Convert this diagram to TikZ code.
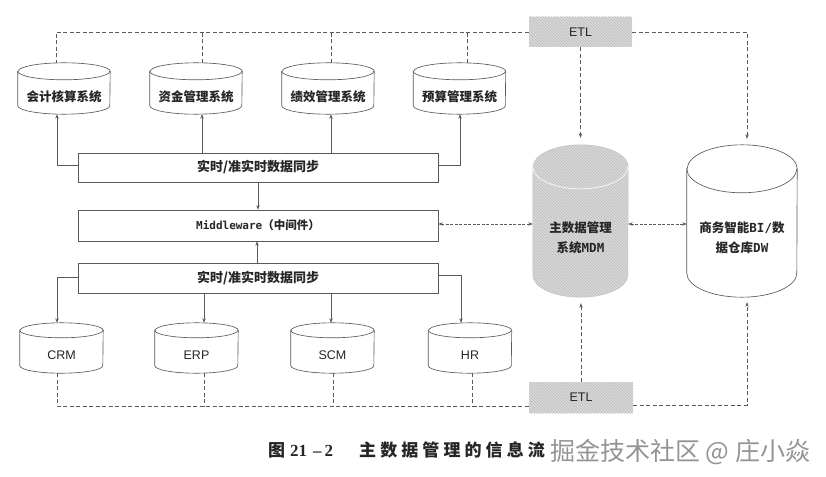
\documentclass[tikz,border=0pt]{standalone}
\usepackage{fontspec}
\setmainfont{Liberation Sans}
\newfontfamily\cjk{Noto Sans CJK SC}
\newfontfamily\monob{DejaVu Sans Mono}
\newfontfamily\capfont{Noto Sans CJK SC}[LetterSpace=24]
\newfontfamily\serifn{Liberation Serif}
\usetikzlibrary{arrows.meta,patterns,backgrounds}
\definecolor{ln}{HTML}{5A5A5A}
\definecolor{tx}{HTML}{262626}
\tikzset{
  line/.style={draw=ln, line width=0.65pt},
  arr/.style={line, -{Stealth[length=4.5pt,width=3.4pt]}},
  darr/.style={line, dash pattern=on 3pt off 1.5pt, {Stealth[length=4.5pt,width=3.4pt]}-{Stealth[length=4.5pt,width=3.4pt]}},
  etl/.style={draw=ln, line width=0.65pt, dash pattern=on 4pt off 2.5pt},
  etlarr/.style={etl, -{Stealth[length=4.5pt,width=3.4pt]}},
  syncbox/.style={draw=ln, line width=0.65pt, fill=white, minimum width=360pt, inner sep=0pt, text=tx},
  synctext/.style={font=\cjk\bfseries\fontsize{13}{15}\selectfont},
  hatch/.style={fill=black!15, postaction={pattern=north west lines, pattern color=black!26}},
  etlbox/.style={hatch, minimum width=103pt, minimum height=30pt, inner sep=0pt, font=\fontsize{12.5}{14}\selectfont, text=tx},
  cylface/.style={minimum width=#1, inner sep=0pt, align=center, text=tx},
  cyltext/.style={font=\cjk\bfseries\fontsize{12.5}{15}\selectfont},
  latintext/.style={font=\fontsize{12.5}{15}\selectfont},
  cylbody/.style={draw=ln, line width=0.65pt, fill=white},
  mdmbody/.style={draw=black!22, line width=0.5pt, hatch},
}
% #1 name, #2 rx, #3 ry, #4 extra bottom, #5 style
\newcommand\drawcyl[5]{%
  \path[#5] ([yshift=#3]#1.north west) -- ([yshift={#3-#4}]#1.south west)
    arc[start angle=180,end angle=360,x radius=#2,y radius=#3]
    -- ([yshift=#3]#1.north east)
    arc[start angle=0,end angle=180,x radius=#2,y radius=#3] -- cycle;
}
\newcommand\cylfront[4]{%
  \path[#4] ([yshift=#3]#1.north west)
    arc[start angle=180,end angle=360,x radius=#2,y radius=#3];
}
\begin{document}
\begin{tikzpicture}[x=1pt,y=-1pt]
\useasboundingbox (0,0) rectangle (826,476);

% ---- top systems
\node[cylface=92pt, minimum height=34pt, cyltext] (acc)  at (64,97)    {会计核算系统};
\node[cylface=92pt, minimum height=34pt, cyltext] (fund) at (196,97)   {资金管理系统};
\node[cylface=92pt, minimum height=34pt, cyltext] (perf) at (328,97)   {绩效管理系统};
\node[cylface=92pt, minimum height=34pt, cyltext] (budg) at (459.5,97) {预算管理系统};

% ---- bottom systems
\node[cylface=83pt, minimum height=35pt, latintext] (crm) at (61.5,355.5) {CRM};
\node[cylface=83pt, minimum height=35pt, latintext] (erp) at (196.5,355.5) {ERP};
\node[cylface=83pt, minimum height=35pt, latintext] (scm) at (332.5,355.5) {SCM};
\node[cylface=83pt, minimum height=35pt, latintext] (hr)  at (470,355.5) {HR};

% ---- MDM and BI
\node[cylface=95pt, minimum height=98pt, font=\cjk\bfseries\fontsize{12.5}{20}\selectfont] (mdm) at (580.5,238)
  {主数据管理\\系统{\monob\bfseries MDM}};
\node[cylface=110pt, minimum height=89pt, font=\cjk\bfseries\fontsize{12.5}{19.5}\selectfont] (bi) at (742,237.5)
  {商务智能{\monob\bfseries BI/}数\\据仓库{\monob\bfseries DW}};

\begin{scope}[on background layer]
  \fill[white] (0,0) rectangle (826,476);
  \foreach \n in {acc,fund,perf,budg} {
    \drawcyl{\n}{46pt}{8.5pt}{0pt}{cylbody}
    \cylfront{\n}{46pt}{8.5pt}{line}
  }
  \foreach \n in {crm,erp,scm,hr} {
    \drawcyl{\n}{41.5pt}{7.5pt}{0pt}{cylbody}
    \cylfront{\n}{41.5pt}{7.5pt}{line}
  }
  \drawcyl{mdm}{47.5pt}{22pt}{10pt}{mdmbody}
  \cylfront{mdm}{47.5pt}{22pt}{draw=black!5, line width=0.9pt}
  \drawcyl{bi}{55pt}{24pt}{15pt}{cylbody}
  \cylfront{bi}{55pt}{24pt}{line}
\end{scope}

% ---- sync / middleware boxes
\node[syncbox, minimum height=29pt, synctext] (sync1) at (258,167.5) {实时/准实时数据同步};
\node[syncbox, minimum height=31pt] (mid) at (258,225.5)
  {{\monob\bfseries\fontsize{11}{13}\selectfont Middleware}{\cjk\bfseries\fontsize{11.5}{13}\selectfont （中间件）}};
\node[syncbox, minimum height=30pt, synctext] (sync2) at (258,278) {实时/准实时数据同步};

% ---- ETL boxes
\node[etlbox] (etlT) at (580.5,32) {ETL};
\node[etlbox, minimum width=104pt, minimum height=31pt] (etlB) at (581,397.5) {ETL};

% ---- upper sync connectors
\draw[arr] ([yshift=2.5pt]sync1.west) -| ([xshift=-7pt]acc.south);
\draw[arr] ([xshift=6pt]fund.south |- sync1.north) -- ([xshift=6pt]fund.south);
\draw[arr] ([xshift=3pt]perf.south |- sync1.north) -- ([xshift=3pt]perf.south);
\draw[arr] ([yshift=2.5pt]sync1.east) -| ([xshift=0.5pt]budg.south);
\draw[arr] (sync1.south) -- (mid.north);
\draw[arr] ([xshift=-1pt]sync2.north) -- ([xshift=-1pt]mid.south);

% ---- lower sync connectors
\draw[arr] ([yshift=1pt]sync2.west) -| ([xshift=-4.5pt,yshift=15pt]crm.north);
\draw[arr] ([xshift=7.5pt]erp.north |- sync2.south) -- ([xshift=7.5pt,yshift=15pt]erp.north);
\draw[arr] ([xshift=-1.5pt]scm.north |- sync2.south) -- ([xshift=-1.5pt,yshift=15pt]scm.north);
\draw[arr] ([yshift=3pt]sync2.east) -| ([xshift=-9pt,yshift=15pt]hr.north);

% ---- double arrows
\coordinate (dy) at ([yshift=1.5pt]mid.east);
\draw[darr] (dy) -- (dy -| mdm.west);
\draw[darr] (dy -| mdm.east) -- (dy -| bi.west);

% ---- top ETL
\draw[etl] (etlT.west) -| ([xshift=-8pt,yshift=17pt]acc.north);
\draw[etl] ([xshift=6pt,yshift=17pt]fund.north) -- ([xshift=6pt]fund.north |- etlT.west);
\draw[etl] ([xshift=3pt,yshift=17pt]perf.north) -- ([xshift=3pt]perf.north |- etlT.west);
\draw[etl] ([xshift=7.5pt,yshift=17pt]budg.north) -- ([xshift=7.5pt]budg.north |- etlT.west);
\coordinate (mt) at ([yshift=51pt]mdm.north);
\draw[etlarr] (etlT.south) -- (etlT.south |- mt);
\draw[etlarr] (etlT.east) -| ([xshift=5pt,yshift=54pt]bi.north);

% ---- bottom ETL
\coordinate (bl) at ([yshift=-8.5pt]etlB.west);
\coordinate (br) at ([yshift=-7.5pt]etlB.east);
\draw[etl] ([xshift=-4.5pt]crm.south) |- (bl);
\draw[etl] ([xshift=7.5pt]erp.south) -- ([xshift=7.5pt]erp.south |- bl);
\draw[etl] ([xshift=0.5pt]scm.south) -- ([xshift=0.5pt]scm.south |- bl);
\draw[etl] ([xshift=2pt]hr.south) -- ([xshift=2pt]hr.south |- bl);
\coordinate (mb) at ([yshift=-16pt]mdm.south);
\draw[etlarr] (etlB.north) -- (etlB.north |- mb);
\draw[etlarr] (br) -| ([xshift=5pt,yshift=-20pt]bi.south);

% ---- caption and watermark
\node[anchor=west, inner sep=0pt, text=tx] (cap) at (268,450)
  {{\capfont\bfseries\fontsize{17}{18}\selectfont 图}\hspace{5pt}{\serifn\bfseries\fontsize{17}{18}\selectfont 21\hspace{6pt}–\hspace{3pt}2}\hspace{26pt}{\capfont\bfseries\fontsize{17}{18}\selectfont 主数据管理的信息流}};
\node[anchor=west, inner sep=0pt, text=black!42] (wm) at (550,452)
  {\cjk\fontsize{25}{27}\selectfont 掘金技术社区 @ 庄小焱};
\end{tikzpicture}
\end{document}
